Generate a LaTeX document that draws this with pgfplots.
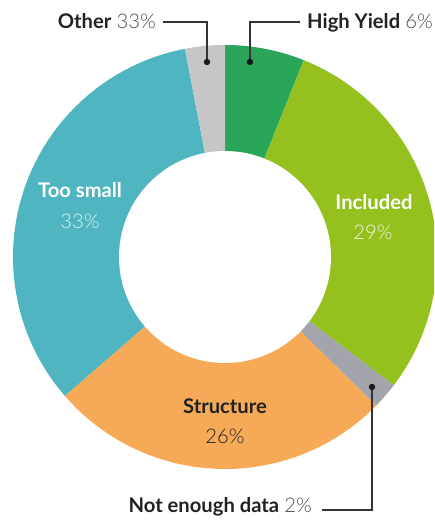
\documentclass[border=0pt]{standalone}
\usepackage{pgfplots}
\usepackage{pgfplotstable}
\pgfplotsset{compat=1.18}
\usepackage{fontspec}
\setmainfont{Lato}
\newfontfamily\lightfont{Lato}[UprightFont=* Light]
\definecolor{cHY}{HTML}{2AA55A}
\definecolor{cInc}{HTML}{95C11F}
\definecolor{cNED}{HTML}{A4A4AC}
\definecolor{cStr}{HTML}{F6AA58}
\definecolor{cTS}{HTML}{4FB5C0}
\definecolor{cOth}{HTML}{C6C6C6}
\definecolor{txt}{HTML}{222222}
\definecolor{lne}{HTML}{333333}
\pgfplotstableread{
label value color
HighYield 6 cHY
Included 29 cInc
NotEnoughData 2 cNED
Structure 26 cStr
TooSmall 33 cTS
Other 3 cOth
}\data
\begin{document}
\begin{tikzpicture}
\begin{axis}[
  width=434pt, height=521pt, scale only axis,
  xmin=0, xmax=434, ymin=0, ymax=521,
  hide axis,
  clip=true,
]
\def\cum{0}
\def\total{99}
\pgfplotsforeachungrouped \i in {0,...,5}{%
  \pgfplotstablegetelem{\i}{value}\of\data \let\myv\pgfplotsretval
  \pgfplotstablegetelem{\i}{color}\of\data \let\myc\pgfplotsretval
  \pgfmathsetmacro\mya{90-\cum/\total*360}%
  \pgfmathsetmacro\cum{\cum+\myv}%
  \pgfmathsetmacro\myb{90-\cum/\total*360}%
  \edef\tmp{\noexpand\addplot[fill=\myc, draw=none, domain=\myb:\mya, samples=90, variable=\noexpand\t] ({225+212*cos(\noexpand\t)},{264+212*sin(\noexpand\t)}) -- (axis cs:225,264) -- cycle;}%
  \tmp
}
\addplot[fill=white, draw=none, domain=0:360, samples=120, variable=\t] ({225+106*cos(\t)},{264+106*sin(\t)}) -- cycle;

% leader lines
\draw[lne, line width=1.4pt] (axis cs:163,499) -- (axis cs:207,499) -- (axis cs:207,459);
\fill[black!90] (axis cs:207,459) circle[radius=3.2];
\draw[lne, line width=1.4pt] (axis cs:300,499) -- (axis cs:250,499) -- (axis cs:250,459);
\fill[black!90] (axis cs:250,459) circle[radius=3.2];
\draw[lne, line width=1.4pt] (axis cs:322,11) -- (axis cs:372,11) -- (axis cs:372,134);
\fill[black!90] (axis cs:372,134) circle[radius=3.2];

\node[anchor=base east, inner sep=0pt, font=\fontsize{20.2}{22}\selectfont] at (axis cs:156,492) {\textcolor{txt}{\bfseries Other} \textcolor{black!70}{\lightfont 33\%}};
\node[anchor=base west, inner sep=0pt, font=\fontsize{20.2}{22}\selectfont] at (axis cs:307,492) {\textcolor{txt}{\bfseries High Yield} \textcolor{black!70}{\lightfont 6\%}};
\node[anchor=base east, inner sep=0pt, font=\fontsize{20.2}{22}\selectfont] at (axis cs:312,8) {\textcolor{txt}{\bfseries Not enough data} \textcolor{black!70}{\lightfont 2\%}};

\node[inner sep=0pt, font=\fontsize{20.2}{22}\selectfont\bfseries, text=white] at (axis cs:374,319) {Included};
\node[inner sep=0pt, font=\fontsize{20.2}{22}\selectfont\lightfont, text=white, opacity=0.85] at (axis cs:373,289) {29\%};
\node[inner sep=0pt, font=\fontsize{20.2}{22}\selectfont\bfseries, text=white] at (axis cs:80,331) {Too small};
\node[inner sep=0pt, font=\fontsize{20.2}{22}\selectfont\lightfont, text=white, opacity=0.8] at (axis cs:80,300) {33\%};
\node[inner sep=0pt, font=\fontsize{20.2}{22}\selectfont\bfseries, text=txt] at (axis cs:225,115) {Structure};
\node[inner sep=0pt, font=\fontsize{20.2}{22}\selectfont\lightfont, text=txt] at (axis cs:225,85) {26\%};
\end{axis}
\pgfresetboundingbox
\path[use as bounding box] (current axis.south west) rectangle (current axis.north east);
\end{tikzpicture}
\end{document}
